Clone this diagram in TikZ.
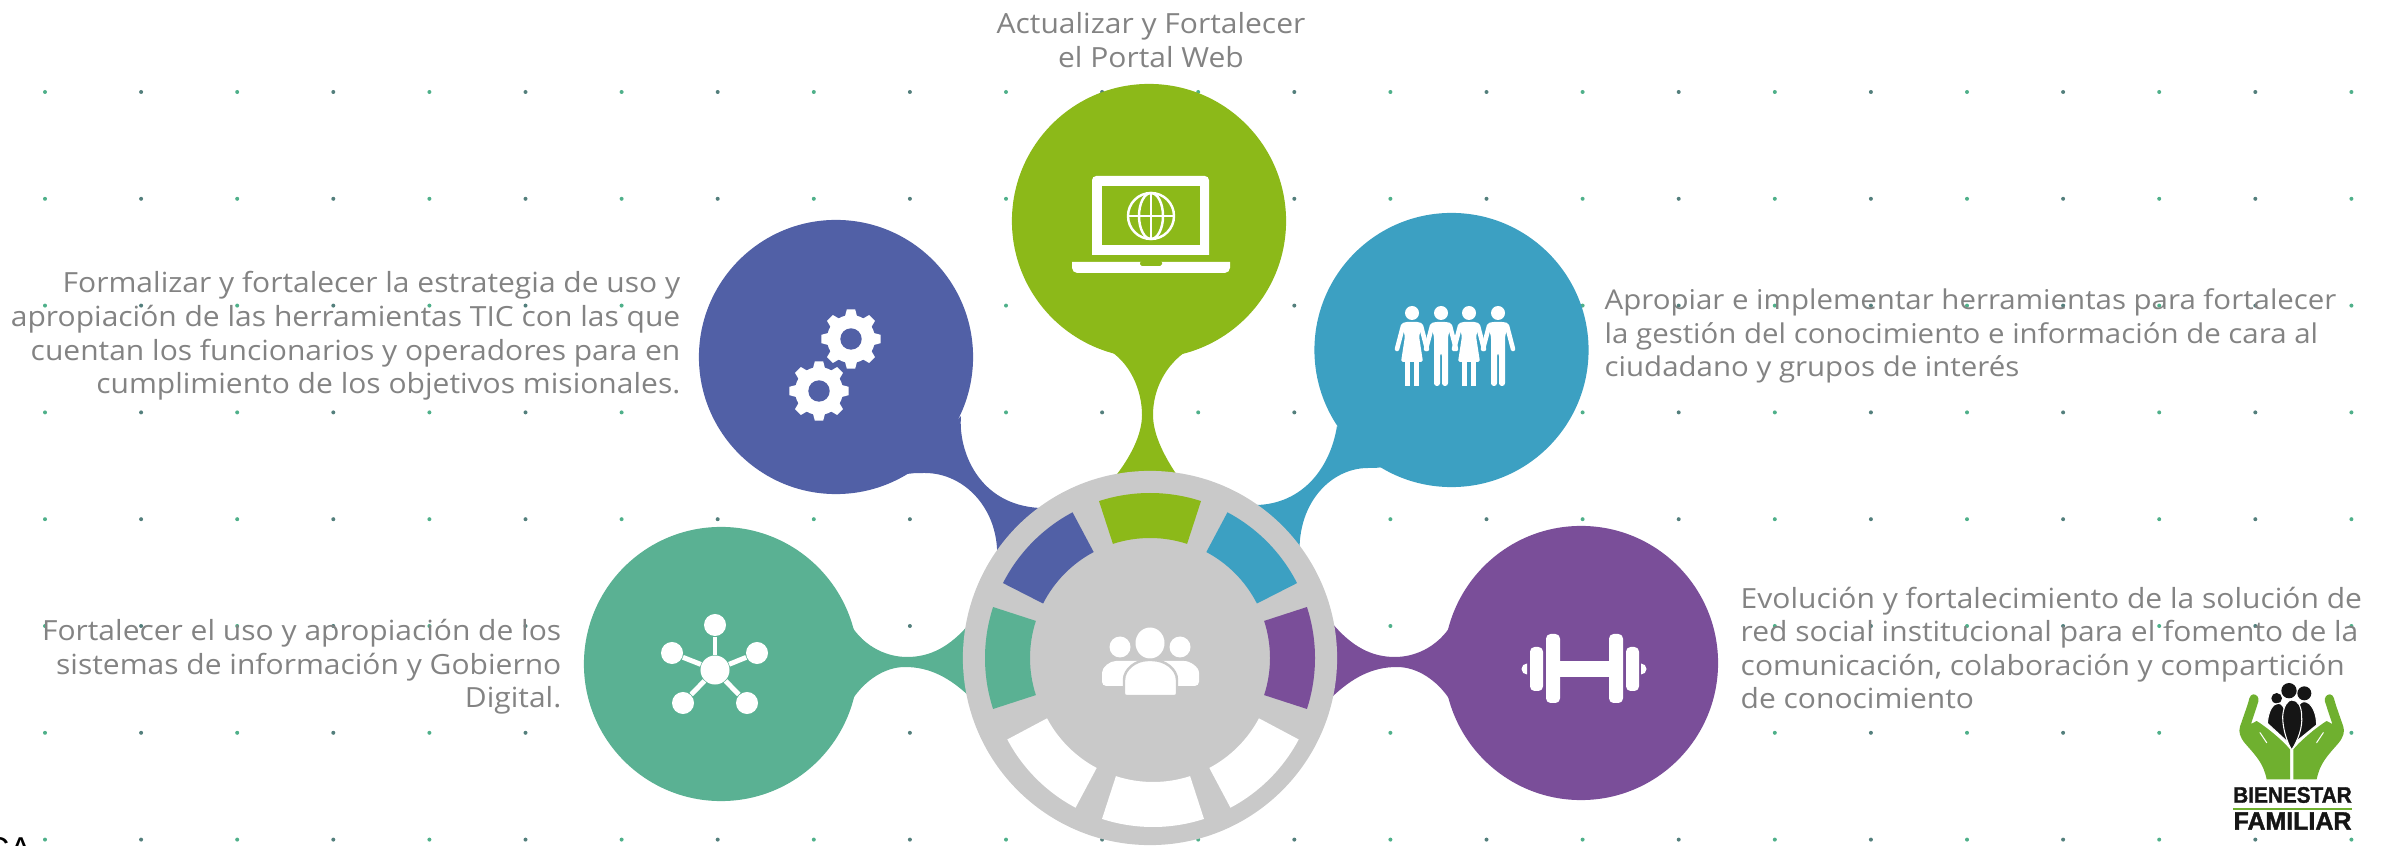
\documentclass[tikz,border=0pt]{standalone}
\usepackage{fontspec}
\setmainfont[FakeStretch=1.08]{Open Sans}
\newfontfamily\logofont[BoldFeatures={FakeBold=1.5}]{Liberation Sans}
\definecolor{limebub}{HTML}{8CB919}
\definecolor{bluebub}{HTML}{5160A6}
\definecolor{cyanbub}{HTML}{3CA0C2}
\definecolor{tealbub}{HTML}{5AB193}
\definecolor{purplebub}{HTML}{7A4E99}
\definecolor{hubgray}{HTML}{C9C9C9}
\definecolor{labelgray}{HTML}{838383}
\definecolor{dotgreen}{HTML}{4FB08A}
\definecolor{dotdark}{HTML}{537F7C}
\definecolor{logogreen}{HTML}{6FB02F}
\definecolor{logoblack}{HTML}{151515}
\tikzset{
  bubble/.style={circle,inner sep=0,minimum size=2.74cm},
  infotext/.style={font=\fontsize{7.9}{9.55}\selectfont,text=labelgray,inner sep=0},
  netdot/.style={circle,fill=white,inner sep=0,minimum size=0.22cm},
  logobody/.style={fill=logoblack,draw=white,line width=0.3pt},
}
\begin{document}
\begin{tikzpicture}[x=0.01cm,y=-0.01cm]
    \useasboundingbox (0,0) rectangle (2387,846);
    % dots
    \foreach \ky in {0,...,7} {
      \foreach \kx in {0,2,...,24} \fill[dotgreen] ({45+96.1*\kx},{92+106.8*\ky}) circle (2);
      \foreach \kx in {1,3,...,23} \fill[dotdark] ({45+96.1*\kx},{92+106.8*\ky}) circle (2);
    }
    \coordinate (hubc) at (1150,658);
    \coordinate (lowc) at (1153,662);
    % necks
    \fill[limebub] (1107,349) .. controls (1130,362) and (1142,390) .. (1142,415) .. controls (1142,435) and (1130,458) .. (1114,478) -- (1179,478) .. controls (1165,458) and (1153,435) .. (1153,415) .. controls (1153,390) and (1165,365) .. (1188,350) -- cycle;
    \fill[bluebub] (961,416) .. controls (958,450) and (978,505) .. (1040,508) -- (1040,560) -- (997,560) .. controls (1000,510) and (965,473) .. (925,473) .. controls (917,473) and (910,473) .. (902,475) -- cycle;
    \fill[cyanbub] (1337,426) .. controls (1330,470) and (1300,507) .. (1250,505) -- (1250,560) -- (1300,560) .. controls (1295,505) and (1330,468) .. (1368,468) .. controls (1374,468) and (1380,468) .. (1388,466) -- cycle;
    \fill[tealbub] (847,618) .. controls (860,645) and (885,657) .. (907,657) .. controls (930,657) and (950,647) .. (970,623) -- (970,697) .. controls (950,678) and (930,667) .. (905,667) .. controls (885,667) and (865,680) .. (852,700) -- cycle;
    \fill[purplebub] (1455,618) .. controls (1442,645) and (1417,657) .. (1395,657) .. controls (1372,657) and (1352,647) .. (1332,623) -- (1332,697) .. controls (1352,678) and (1372,667) .. (1397,667) .. controls (1417,667) and (1437,680) .. (1450,700) -- cycle;
    % bubbles
    \node[bubble,fill=limebub] (portal) at (1149,221) {};
    \node[bubble,fill=bluebub] (gears) at (836,357) {};
    \node[bubble,fill=cyanbub] (people) at (1451.5,350) {};
    \node[bubble,fill=tealbub] (network) at (721,664) {};
    \node[bubble,fill=purplebub] (weights) at (1581,663) {};
    % hub
    \node[circle,fill=hubgray,inner sep=0,minimum size=3.74cm] (hub) at (hubc) {};
    \foreach \a/\b/\col in {-108/-72/limebub,-153/-118/bluebub,-62/-27/cyanbub,-198/-162/tealbub,-18/18/purplebub}
      \fill[\col] ([shift={(\a:165)}]hubc) arc[start angle=\a,end angle=\b,radius=165] -- ([shift={(\b:120)}]hubc) arc[start angle=\b,end angle=\a,radius=120] -- cycle;
    \foreach \a/\b in {28/62,72/108,118/152}
      \fill[white] ([shift={(\a:165)}]lowc) arc[start angle=\a,end angle=\b,radius=165] -- ([shift={(\b:120)}]lowc) arc[start angle=\b,end angle=\a,radius=120] -- cycle;
    % hub icon
    \fill[white] (1150,643) ellipse (14.5 and 15.5);
    \fill[white] (1120,647) circle (10.5);
    \fill[white] (1180,647) circle (10.5);
    \fill[white,rounded corners=1.2pt] (1140,686) -- (1102,686) -- (1102,677) .. controls (1102,667) and (1110,661) .. (1120,661) -- (1180,661) .. controls (1190,661) and (1199,667) .. (1199,677) -- (1199,686) -- cycle;
    \fill[white,draw=hubgray,line width=0.7pt,rounded corners=0.6pt] (1124,696) -- (1124,682) .. controls (1124,669) and (1136,660) .. (1150,660) .. controls (1165,660) and (1177,669) .. (1177,682) -- (1177,696) -- cycle;
    % laptop
    \fill[white] (1092,255) [rounded corners=1.2pt] -- (1092,176) -- (1209,176) [sharp corners] -- (1209,255) -- cycle;
    \fill[limebub] (1102,186) rectangle (1200,245);
    \fill[white] (1072,262) [rounded corners=1.5pt] -- (1072,273) -- (1230,273) [sharp corners] -- (1230,262) -- cycle;
    \fill[limebub,rounded corners=0.5pt] (1140,261) -- (1140,266) -- (1162,266) -- (1162,261) -- cycle;
    \draw[white,line width=0.7pt] (1151,216) circle (23);
    \draw[white,line width=0.7pt] (1151,216) ellipse (12 and 23);
    \draw[white,line width=0.7pt] (1151,193) -- (1151,239);
    \draw[white,line width=0.7pt] (1128,216) -- (1174,216);
    % gears
    \foreach \cx/\cy in {851/339,819/391} {
      \fill[white] (\cx,\cy) circle (24);
      \foreach \a in {0,45,...,315}
        \fill[white] ([shift={(\a-17:22)}]\cx,\cy) -- ([shift={(\a-8:30)}]\cx,\cy) -- ([shift={(\a+8:30)}]\cx,\cy) -- ([shift={(\a+17:22)}]\cx,\cy) -- cycle;
      \fill[bluebub] (\cx,\cy) circle (10.7);
    }
    % people
    \foreach \cx in {1412,1441,1469,1498} {
      \fill[white] (\cx,313) circle (7);
      \draw[white,line width=1.3pt,line cap=round] (\cx-9,326) -- (\cx-15,349);
      \draw[white,line width=1.3pt,line cap=round] (\cx+9,326) -- (\cx+15,349);
    }
    \foreach \cx in {1441,1498} {
      \fill[white,rounded corners=0.8pt] (\cx-11,324) -- (\cx-7,322) -- (\cx+7,322) -- (\cx+11,324) -- (\cx+7,336) -- (\cx+7,386) -- (\cx+1,386) -- (\cx+1,353) -- (\cx-1,353) -- (\cx-1,386) -- (\cx-7,386) -- (\cx-7,336) -- cycle;
    }
    \foreach \cx in {1412,1469} {
      \fill[white,rounded corners=0.5pt] (\cx-11,324) -- (\cx-7,322) -- (\cx+7,322) -- (\cx+11,324) -- (\cx+7,336) -- (\cx+11,362) -- (\cx-11,362) -- (\cx-7,336) -- cycle;
      \fill[white] (\cx-7,360) rectangle (\cx-2,386);
      \fill[white] (\cx+2,360) rectangle (\cx+7,386);
    }
    % network
    \node[netdot,minimum size=0.29cm] (netc) at (715,670) {};
    \foreach \nn/\px/\py in {neta/715/625,netb/672/653,netd/757/653,nete/683/703,netf/747/703} {
      \node[netdot] (\nn) at (\px,\py) {};
      \draw[white,line width=1.4pt] (netc) -- (\nn);
    }
    % dumbbell
    \fill[white] (1555,661) rectangle (1612,677);
    \fill[white,rounded corners=1.3pt] (1546,634) rectangle (1560,703);
    \fill[white,rounded corners=1.3pt] (1609,634) rectangle (1623,703);
    \fill[white,rounded corners=1.3pt] (1530,647) rectangle (1543,691);
    \fill[white,rounded corners=1.3pt] (1626,647) rectangle (1639,691);
    \fill[white] (1527,663.5) arc[start angle=-90,end angle=-270,radius=5.5] -- cycle;
    \fill[white] (1641,663.5) arc[start angle=-90,end angle=90,radius=5.5] -- cycle;
    % texts
    \node[infotext,align=center] (portaltxt) at (1151,40) {Actualizar y Fortalecer\\el Portal Web};
    \node[infotext,align=right,anchor=east] (gearstxt) at (681,336) {Formalizar y fortalecer la estrategia de uso y\\apropiación de las herramientas TIC con las que\\cuentan los funcionarios y operadores para en\\cumplimiento de los objetivos misionales.};
    \node[infotext,align=right,anchor=east] (networktxt) at (562,667) {Fortalecer el uso y apropiación de los\\sistemas de información y Gobierno\\Digital.};
    \node[infotext,align=left,anchor=west,font=\fontsize{7.75}{9.55}\selectfont] (peopletxt) at (1604,336) {Apropiar e implementar herramientas para fortalecer\\la gestión del conocimiento e información de cara al\\ciudadano y grupos de interés};
    \node[infotext,align=left,anchor=west] (weightstxt) at (1740,648) {Evolución y fortalecimiento de la solución de\\red social institucional para el fomento de la\\comunicación, colaboración y compartición\\de conocimiento};
    \node[anchor=base west,inner sep=0,font=\logofont\fontsize{9.4}{10}\selectfont] (cutoff) at (-15,860) {CA};
    % logo
    \begin{scope}[shift={(2150,660)},scale=0.3333]
      \fill[logoblack] (417,92) circle (23);
      \fill[logoblack] (380,115) circle (16);
      \fill[logoblack] (463,100) circle (21);
      \fill[logobody] (500,195) .. controls (500,160) and (485,125) .. (462,125) .. controls (440,125) and (432,170) .. (432,250) -- cycle;
      \fill[logobody] (352,190) .. controls (355,150) and (370,130) .. (385,130) .. controls (405,130) and (415,170) .. (415,248) -- cycle;
      \path[logobody] (398,170) .. controls (400,135) and (415,120) .. (425,120) .. controls (445,120) and (455,140) .. (455,170) .. controls (458,200) and (445,240) .. (425,270) .. controls (410,245) and (398,205) .. (398,170) -- cycle;
      \foreach \flip/\off in {1/0,-1/850} {
        \begin{scope}[shift={(\off,0)},xscale=\flip]
          \fill[logogreen] (310,103) .. controls (320,103) and (328,112) .. (325,125) -- (303,192) -- (320,183) .. controls (345,198) and (395,238) .. (420,268) -- (420,358) -- (350,358) .. controls (340,310) and (320,290) .. (285,250) .. controls (270,232) and (265,215) .. (270,200) .. controls (280,170) and (295,130) .. (298,115) .. controls (300,108) and (305,103) .. (310,103) -- cycle;
          \draw[white,line width=0.3pt,line cap=round] (330,218) -- (350,248);
        \end{scope}
      }
    \end{scope}
    \fill[logogreen] (2233,807.5) rectangle (2352,809.5);
    \node[inner sep=0,font=\logofont\bfseries\fontsize{6.35}{7}\selectfont,text=logoblack] (logotop) at (2292.5,795) {\scalebox{0.93}[1]{BIENESTAR}};
    \node[inner sep=0,font=\logofont\bfseries\fontsize{7.1}{8}\selectfont,text=logoblack] (logobottom) at (2292.5,821) {FAMILIAR};
  \end{tikzpicture}
\end{document}
